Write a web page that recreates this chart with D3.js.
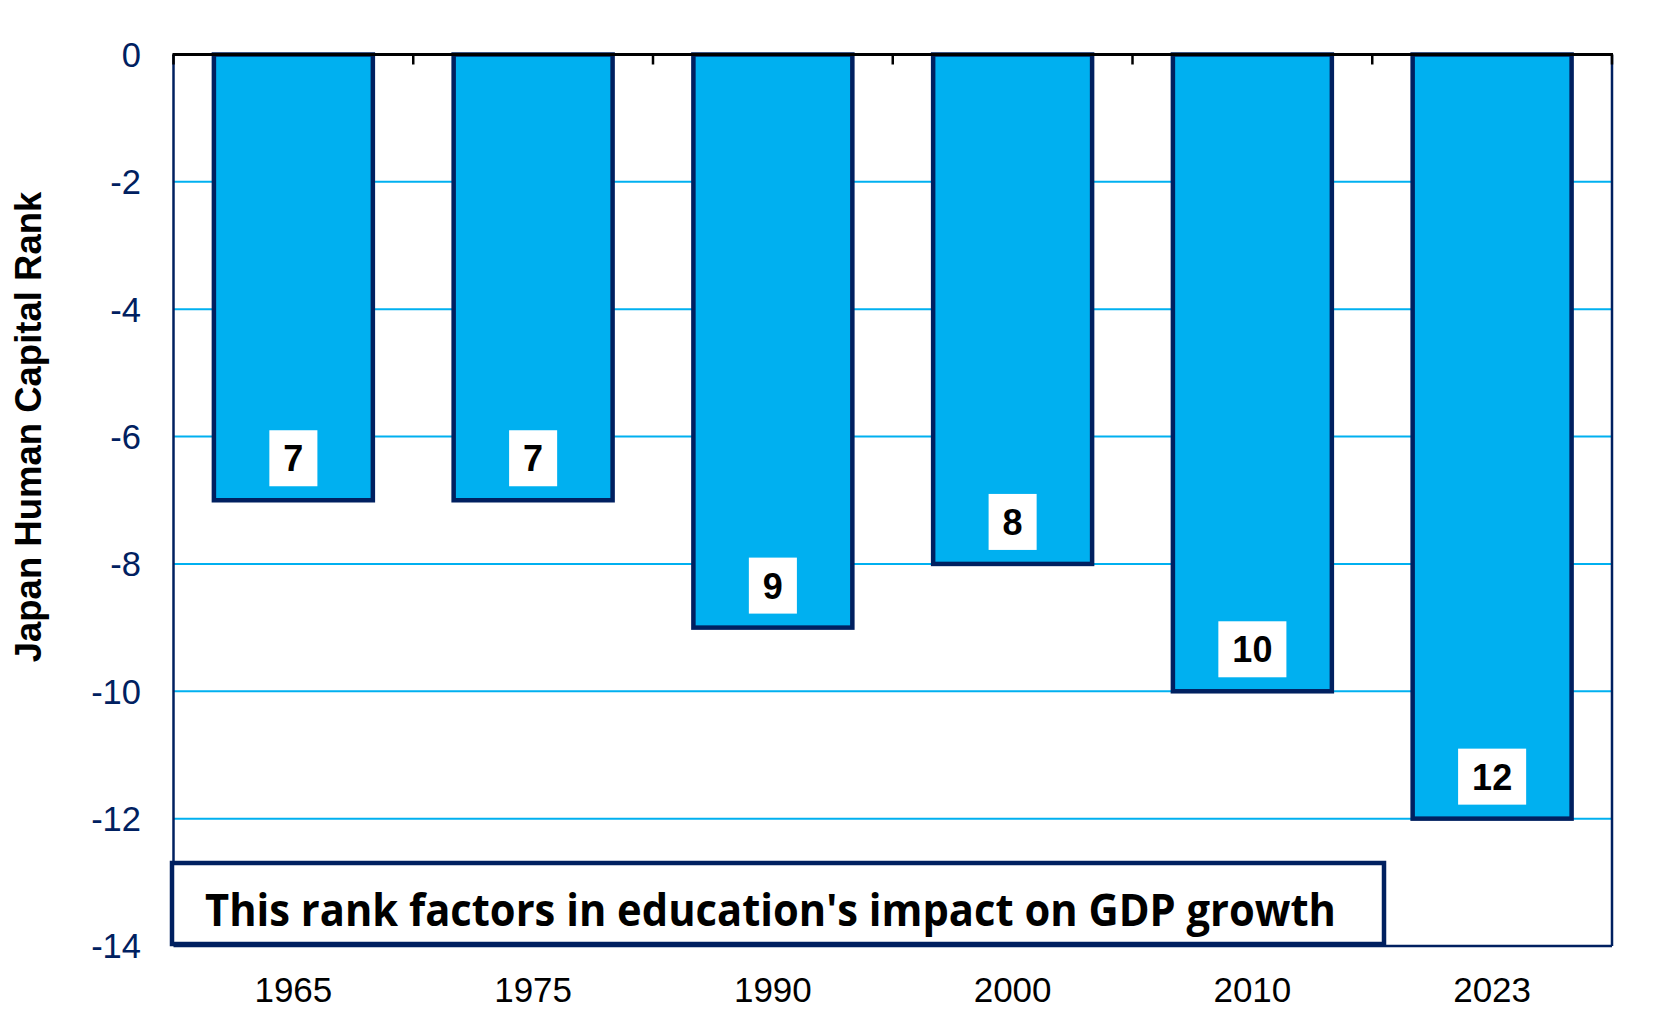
<!DOCTYPE html>
<html>
<head>
<meta charset="utf-8">
<script src="https://cdn.jsdelivr.net/npm/d3@7"></script>
<style>
  html, body { margin: 0; padding: 0; background: #fff; }
  svg { display: block; }
</style>
</head>
<body>
<svg id="chart" width="1667" height="1028"></svg>
<script>
const categories = ["1965", "1975", "1990", "2000", "2010", "2023"];
const ranks = [7, 7, 9, 8, 10, 12];
const values = [-7, -7, -9, -8, -10, -12];
const yTicks = [0, -2, -4, -6, -8, -10, -12, -14];
const yTitle = "Japan Human Capital Rank";
const note = "This rank factors in education's impact on GDP growth";

const svg = d3.select("#chart");
const L = 173.5, R = 1612, T = 54.5, B = 946;
const navy = "#002060", cyan = "#00B0F0";

const pad = 0.337;
const x = d3.scaleBand().domain(categories).range([L, R]).paddingInner(pad).paddingOuter(pad / 2);
const y = d3.scaleLinear().domain([-14, 0]).range([B, T]);

// gridlines
svg.append("g").selectAll("line").data(yTicks.filter(v => v !== 0 && v !== -14)).join("line")
  .attr("x1", L).attr("x2", R)
  .attr("y1", d => y(d)).attr("y2", d => y(d))
  .attr("stroke", cyan).attr("stroke-width", 2);

// bars
svg.append("g").selectAll("rect").data(values).join("rect")
  .attr("x", (d, i) => x(categories[i]))
  .attr("width", x.bandwidth())
  .attr("y", d => y(0))
  .attr("height", d => y(d) - y(0))
  .attr("fill", cyan)
  .attr("stroke", navy)
  .attr("stroke-width", 4.5);

// frame
svg.append("line").attr("x1", L).attr("x2", L).attr("y1", T).attr("y2", B).attr("stroke", navy).attr("stroke-width", 2.5);
svg.append("line").attr("x1", R).attr("x2", R).attr("y1", T).attr("y2", B).attr("stroke", navy).attr("stroke-width", 2.5);
svg.append("line").attr("x1", L).attr("x2", R).attr("y1", B).attr("y2", B).attr("stroke", navy).attr("stroke-width", 2.5);
svg.append("line").attr("x1", L - 1).attr("x2", R + 1).attr("y1", T).attr("y2", T).attr("stroke", "#000").attr("stroke-width", 3);

// top ticks at category boundaries
const step = x.step();
const bounds = d3.range(categories.length + 1).map(i => L + i * step);
svg.append("g").selectAll("line").data(bounds).join("line")
  .attr("x1", d => d).attr("x2", d => d)
  .attr("y1", T).attr("y2", T + 10)
  .attr("stroke", "#000").attr("stroke-width", 2.5);

// y tick labels
svg.append("g").selectAll("text").data(yTicks).join("text")
  .attr("x", 141).attr("y", d => y(d))
  .attr("dy", "0.36em")
  .attr("text-anchor", "end")
  .attr("font-family", "Liberation Sans, Arial, sans-serif")
  .attr("font-size", 34.5)
  .attr("fill", navy)
  .text(d => d);

// x labels
svg.append("g").selectAll("text").data(categories).join("text")
  .attr("x", d => x(d) + x.bandwidth() / 2)
  .attr("y", 1002)
  .attr("text-anchor", "middle")
  .attr("font-family", "Liberation Sans, Arial, sans-serif")
  .attr("font-size", 35)
  .attr("fill", "#000")
  .text(d => d);

// y title
svg.append("text")
  .attr("transform", "translate(41,427) rotate(-90)")
  .attr("text-anchor", "middle")
  .attr("font-family", "Liberation Sans, Arial, sans-serif")
  .attr("font-weight", "bold")
  .attr("font-size", 36.5)
  .attr("fill", "#000")
  .text(yTitle);

// value labels
const lg = svg.append("g").selectAll("g").data(values).join("g")
  .attr("transform", (d, i) => `translate(${x(categories[i]) + x.bandwidth() / 2},${y(d) - 42})`);
lg.each(function(d, i) {
  const g = d3.select(this);
  const t = g.append("text")
    .attr("text-anchor", "middle")
    .attr("dy", "0.36em")
    .attr("font-family", "Liberation Sans, Arial, sans-serif")
    .attr("font-weight", "bold")
    .attr("font-size", 36)
    .attr("fill", "#000")
    .text(ranks[i]);
  const w = t.node().getComputedTextLength() + 28;
  g.insert("rect", "text")
    .attr("x", -w / 2).attr("y", -28)
    .attr("width", w).attr("height", 56)
    .attr("fill", "#fff");
});

// annotation box
svg.append("rect")
  .attr("x", 172).attr("y", 863)
  .attr("width", 1212).attr("height", 81)
  .attr("fill", "#fff")
  .attr("stroke", navy).attr("stroke-width", 4.5);
svg.append("text")
  .attr("x", 205).attr("y", 926)
  .attr("font-family", "Open Sans, Noto Sans, sans-serif")
  .attr("font-weight", "bold")
  .attr("font-size", 44)
  .attr("textLength", 1131)
  .attr("lengthAdjust", "spacingAndGlyphs")
  .attr("fill", "#000")
  .text(note);
</script>
</body>
</html>
